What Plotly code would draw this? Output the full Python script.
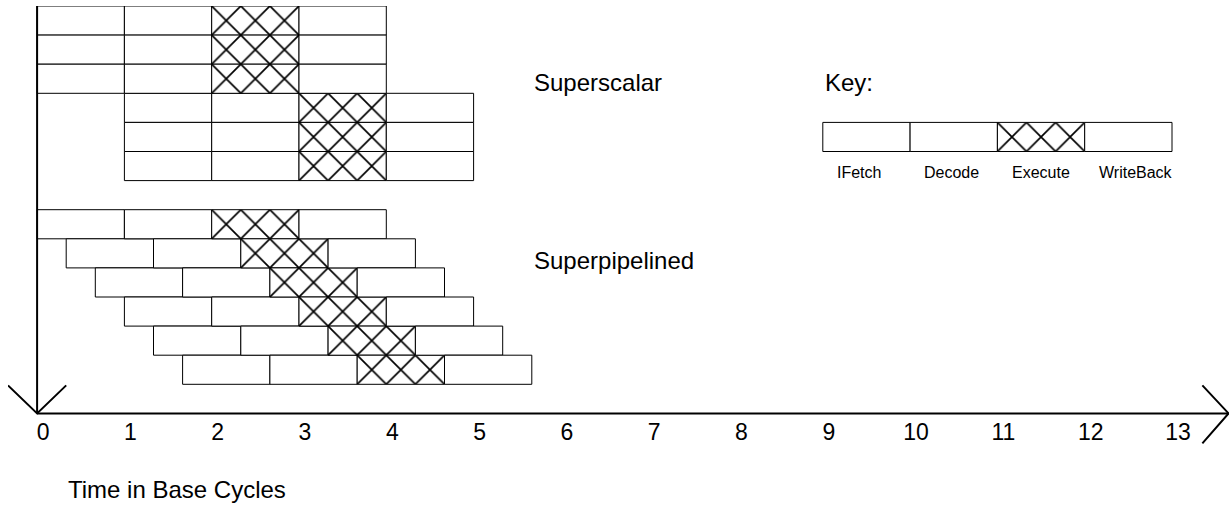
import plotly.graph_objects as go

# ---------------- data ----------------
stages = ["IFetch", "Decode", "Execute", "WriteBack"]
stage_len = [1, 1, 1, 1]

# superscalar: 6 instructions, 3 issued per base cycle
superscalar_start = [0, 0, 0, 1, 1, 1]
superscalar_row = [0, 1, 2, 3, 4, 5]          # row slot counted from the top

# superpipelined: 6 instructions, one every 1/3 base cycle
superpipelined_start = [0, 1/3, 2/3, 1, 4/3, 5/3]
superpipelined_row = [7, 8, 9, 10, 11, 12]

# key
key_start = [9]
key_row = [4]

tick_vals = list(range(14))
tick_text = [str(v) for v in tick_vals]

group_labels = ["Superscalar", "Superpipelined", "Key:"]
axis_title = "Time in Base Cycles"

# ---------------- layout constants ----------------
W, H = 1229, 506
TILE = 29.1                 # px per row / per third of a cycle
PX_X = 3 * TILE             # px per base cycle
ML, MT, MR, MB = 8, 6, 0, 0
N_SLOTS = 14
plot_w = W - ML - MR
plot_h = H - MT - MB
x0 = -1 / 3
x1 = x0 + plot_w / PX_X
y1 = N_SLOTS
y0 = y1 - plot_h / TILE
axis_pos = (0 - y0) / (y1 - y0)
AXIS_PX = MT + N_SLOTS * TILE

FONT = "Liberation Sans, Arial, sans-serif"

def slot_to_y(s):
    return N_SLOTS - s - 0.5

def px_to_y(p):
    return (AXIS_PX - p) / TILE

starts = superscalar_start + superpipelined_start + key_start
rows = superscalar_row + superpipelined_row + key_row
ys = [slot_to_y(r) for r in rows]

fig = go.Figure()
offset = 0
for i, st in enumerate(stages):
    marker = dict(color="white", line=dict(color="black", width=1))
    if st == "Execute":
        marker["pattern"] = dict(shape="x", size=TILE / 2 ** 0.5, solidity=0.16,
                                 fgcolor="black", bgcolor="white", fillmode="replace")
    fig.add_trace(go.Bar(
        orientation="h",
        y=ys,
        x=[stage_len[i]] * len(starts),
        base=[s + offset for s in starts],
        width=1,
        marker=marker,
        name=st,
        showlegend=False,
        hoverinfo="skip",
    ))
    offset += stage_len[i]

# axes lines and arrowheads
LW = 2
arm_dx = 1 / 3
arm_up = 28 / TILE
arm_dn = 30 / TILE
tip_x = x1 - 0.005
shapes = [
    dict(type="line", xref="x", yref="y", x0=0, y0=0, x1=tip_x, y1=0,
         line=dict(color="black", width=LW)),
    dict(type="line", xref="x", yref="y", x0=0, y0=0, x1=0, y1=y1,
         line=dict(color="black", width=LW)),
    dict(type="path", xref="x", yref="y",
         path=f"M {-arm_dx} {arm_up} L 0 0 L {arm_dx} {arm_up}",
         line=dict(color="black", width=LW)),
    dict(type="path", xref="x", yref="y",
         path=f"M {tip_x - 0.3} {arm_up} L {tip_x} 0 L {tip_x - 0.3} {-arm_dn}",
         line=dict(color="black", width=LW)),
]

annotations = [
    dict(text=group_labels[0], x=5.665, y=px_to_y(82.5), xref="x", yref="y",
         xanchor="left", yanchor="middle", showarrow=False,
         font=dict(family=FONT, size=24, color="black")),
    dict(text=group_labels[1], x=5.665, y=px_to_y(260.5), xref="x", yref="y",
         xanchor="left", yanchor="middle", showarrow=False,
         font=dict(family=FONT, size=24, color="black")),
    dict(text=group_labels[2], x=key_start[0], y=px_to_y(82.5), xref="x", yref="y",
         xanchor="left", yanchor="middle", showarrow=False,
         font=dict(family=FONT, size=24, color="black")),
    dict(text=axis_title, x=1 / 3, y=px_to_y(489.5), xref="x", yref="y",
         xanchor="left", yanchor="middle", showarrow=False,
         font=dict(family=FONT, size=24, color="black")),
]
off = 0
for i, st in enumerate(stages):
    annotations.append(dict(
        text=st, x=key_start[0] + off + 0.14, y=px_to_y(172),
        xref="x", yref="y", xanchor="left", yanchor="middle", showarrow=False,
        font=dict(family=FONT, size=16, color="black")))
    off += stage_len[i]

fig.update_layout(
    width=W, height=H,
    margin=dict(l=ML, r=MR, t=MT, b=MB, pad=0),
    paper_bgcolor="white", plot_bgcolor="white",
    barmode="overlay",
    shapes=shapes,
    annotations=annotations,
    xaxis=dict(range=[x0, x1], tickvals=tick_vals, ticktext=tick_text,
               showgrid=False, zeroline=False, showline=False, ticks="",
               anchor="free", position=axis_pos, ticklabelshift=6,
               ticklabelstandoff=3,
               tickfont=dict(family=FONT, size=23, color="black"), fixedrange=True),
    yaxis=dict(range=[y0, y1], visible=False, fixedrange=True),
    font=dict(family=FONT),
)

fig.write_html("out.html", config={"displayModeBar": False},
               post_script="document.body.style.margin='0';document.body.style.padding='0';")
